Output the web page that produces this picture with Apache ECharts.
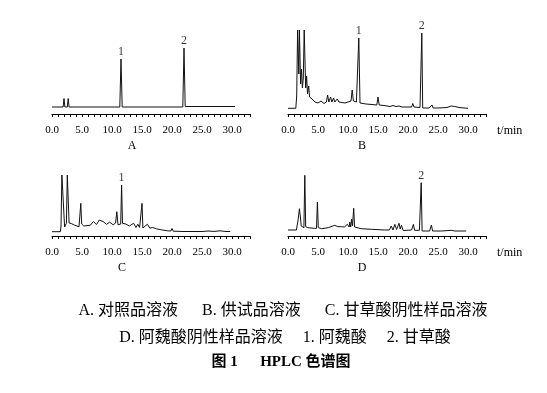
<!DOCTYPE html>
<html><head><meta charset="utf-8">
<script src="https://cdn.jsdelivr.net/npm/echarts@6/dist/echarts.min.js"></script>
<style>html,body{margin:0;padding:0;background:#fff}#c{width:547px;height:393px}</style>
</head><body><div id="c"></div>
<script>
// Tick labels (retention time, min)
const tickValues = [0, 5, 10, 15, 20, 25, 30];
const tickLabels = ['0.0', '5.0', '10.0', '15.0', '20.0', '25.0', '30.0'];

// A: reference solution
const aTime   = [0, 1.85, 2.0, 2.15, 2.55, 2.7, 2.85, 11.3, 11.5, 11.7, 21.8, 22.0, 22.2, 30.5];
const aSignal = [7, 7, 15.5, 7, 7, 15.5, 7, 7, 55, 7, 7, 66, 7.5, 7.5];
const aPeakTimes = [11.5, 22.0];
const aPeakNames = ['1', '2'];

// B: test sample solution
const bTime = [0, 1.3, 1.45, 1.6, 1.7, 1.8, 1.9, 2.0, 2.1, 2.25, 2.4, 2.55, 2.7, 2.8, 2.95, 3.1, 3.25, 3.45, 3.6, 3.8, 4.0, 4.5, 5.0, 5.5, 6.0, 6.4, 6.6, 6.8, 7.1, 7.3, 7.6, 7.8, 8.2, 8.5, 9.0, 9.5, 10.0, 10.5, 10.7, 10.9, 11.4, 11.6, 11.8, 12.0, 12.5, 13.0, 14.0, 14.8, 15.0, 15.2, 16.0, 17.0, 17.5, 18.0, 18.5, 19.0, 20.0, 20.6, 20.8, 21.0, 22.0, 22.15, 22.3, 22.45, 23.5, 24.0, 24.2, 25.0, 26.5, 27.2, 27.8, 28.5, 30.0];
const bSignal = [5.7, 5.7, 18, 84, 84, 40, 84, 84, 30, 45, 26, 36, 84, 84, 26, 38, 20, 28, 17, 19, 15, 12, 11, 13, 10.5, 12, 19, 12, 17, 12, 16, 12, 15, 12, 11.5, 11, 12, 13, 24, 13, 12, 12, 76, 11, 10.5, 10, 9.5, 9, 17, 9, 8.5, 7.5, 8.5, 7.5, 8, 7, 7, 7, 10.5, 7, 6.5, 6.5, 81, 6, 6, 9, 6, 6, 6.5, 8, 7.5, 6.5, 5.7];
const bPeakTimes = [11.8, 22.3];
const bPeakNames = ['1', '2'];

// C: glycyrrhizic-acid negative sample
const cTime = [0, 1.4, 1.5, 1.65, 1.95, 2.1, 2.4, 2.55, 2.7, 2.85, 3.2, 3.7, 4.5, 4.7, 4.8, 4.95, 5.1, 5.3, 5.6, 6.4, 6.9, 7.4, 7.9, 8.2, 8.5, 9.1, 9.6, 10.2, 10.6, 10.8, 11.0, 11.3, 11.45, 11.6, 11.75, 12.3, 12.6, 12.9, 13.1, 13.6, 14.0, 14.3, 14.6, 14.85, 15.0, 15.15, 15.3, 15.9, 16.3, 16.8, 17.4, 18.2, 19.3, 19.8, 20.0, 20.2, 22, 25, 26, 27, 28, 29, 29.7];
const cSignal = [4.3, 4.3, 10, 61, 61, 9, 12.7, 61, 61, 13, 12.5, 11, 9.3, 9.3, 32.7, 12, 14, 10, 9.3, 10.8, 14.5, 11.5, 16, 18, 14.5, 11.7, 13.8, 11.2, 13, 24.3, 11.2, 12, 12, 51, 12.7, 12, 13.8, 10, 9.3, 12.7, 8.5, 11.8, 8.5, 8.5, 32.7, 8, 7.8, 11.8, 7.8, 8.5, 7.2, 6.2, 5.2, 5, 7.5, 4.8, 4.5, 4.5, 5, 4.6, 5.2, 4.5, 4.5];
const cPeakTimes = [11.6];
const cPeakNames = ['1'];

// D: ferulic-acid negative sample
const dTime = [0, 1.4, 1.7, 1.9, 2.05, 2.2, 2.5, 2.65, 2.8, 2.95, 3.3, 4.4, 4.75, 4.9, 5.05, 5.6, 6.7, 7.8, 8.1, 8.3, 8.9, 9.2, 9.4, 9.9, 10.2, 10.3, 10.45, 10.6, 10.75, 10.95, 11.1, 11.4, 12.2, 13.9, 16.1, 16.9, 17.2, 17.5, 17.8, 18.1, 18.5, 18.7, 18.9, 19.2, 20.6, 20.9, 21.1, 21.9, 22.05, 22.2, 22.35, 23.6, 23.9, 24.1, 25.6, 27.2, 27.8, 29.7];
const dSignal = [6, 6, 16.7, 27.3, 20, 10, 8.3, 8.3, 60.7, 9.3, 8.3, 7.7, 7.7, 34, 8.3, 7.3, 8.3, 10.7, 12.7, 9.3, 9.3, 11.3, 9, 11.7, 9, 14, 9, 17, 10, 27.7, 9, 8.3, 7.3, 6.7, 6, 6, 10, 6, 11.7, 6.5, 12.7, 7, 10.7, 5.5, 6, 11.7, 5.7, 5.7, 5.7, 53.3, 5, 5, 11, 5, 5, 5.7, 5, 5];
const dPeakTimes = [22.2];
const dPeakNames = ['2'];

const panelNames = ['A', 'B', 'C', 'D'];
const captionLines = [
  'A. 对照品溶液      B. 供试品溶液      C. 甘草酸阴性样品溶液',
  'D. 阿魏酸阴性样品溶液     1. 阿魏酸     2. 甘草酸',
  '图 1      HPLC 色谱图'
];

const SERIF = '"Liberation Serif", "DejaVu Serif", serif';
const MIXED = '"Liberation Serif", "Noto Sans CJK SC", serif';

function pairs(t, s) { return t.map((x, i) => [x, s[i]]); }
function peakPoints(t, s, pt, pn) {
  return pt.map((x, i) => ({ value: [x, s[t.indexOf(x)]], name: pn[i] }));
}
function xAx(gi, withName) {
  return {
    type: 'value', gridIndex: gi, min: 0, max: 33, interval: 1,
    axisLine: { show: true, onZero: false, lineStyle: { color: '#000', width: 1 } },
    axisTick: { show: true, length: 3, lineStyle: { color: '#000', width: 1 } },
    axisLabel: {
      margin: 11, color: '#000', fontFamily: SERIF, fontSize: 11,
      formatter: v => { const k = tickValues.indexOf(Math.round(v * 10) / 10); return k >= 0 ? tickLabels[k] : ''; }
    },
    splitLine: { show: false },
    name: withName ? 't/min' : '', nameLocation: 'end', nameGap: 11,
    nameTextStyle: { color: '#000', fontFamily: SERIF, fontSize: 12, verticalAlign: 'top', padding: [11, 0, 0, 0] }
  };
}
function yAx(gi, max) {
  return { type: 'value', gridIndex: gi, min: 0, max: max, show: false };
}
function lineSeries(gi, t, s) {
  return {
    type: 'line', xAxisIndex: gi, yAxisIndex: gi, data: pairs(t, s),
    showSymbol: false, symbol: 'none', lineStyle: { color: '#111', width: 1 }, silent: true, z: 3
  };
}
function labelSeries(gi, t, s, pt, pn) {
  return {
    type: 'scatter', xAxisIndex: gi, yAxisIndex: gi, data: peakPoints(t, s, pt, pn),
    symbolSize: 0, clip: false, silent: true,
    label: { show: true, position: 'top', distance: 1, formatter: p => p.name, color: '#000', fontFamily: SERIF, fontSize: 12 }
  };
}

const titlePos = [[132, 140], [362, 140], [122, 262], [362, 262]];
const titles = panelNames.map((n, i) => ({
  text: n, left: titlePos[i][0], top: titlePos[i][1], textAlign: 'center', padding: 0,
  textStyle: { fontFamily: SERIF, fontSize: 12, fontWeight: 'normal', color: '#000' }
}));
titles.push({ text: captionLines[0], left: 283, top: 303, textAlign: 'center', padding: 0,
  textStyle: { fontFamily: MIXED, fontSize: 16, fontWeight: 'normal', color: '#000' } });
titles.push({ text: captionLines[1], left: 285, top: 330, textAlign: 'center', padding: 0,
  textStyle: { fontFamily: MIXED, fontSize: 16, fontWeight: 'normal', color: '#000' } });
titles.push({ text: captionLines[2], left: 281, top: 355, textAlign: 'center', padding: 0,
  textStyle: { fontFamily: MIXED, fontSize: 15, fontWeight: 'bold', color: '#000' } });

const chart = echarts.init(document.getElementById('c'));
chart.setOption({
  backgroundColor: '#fff',
  animation: false,
  title: titles,
  grid: [
    { left: 52, top: 30, width: 198, height: 84 },
    { left: 288, top: 30, width: 198, height: 84 },
    { left: 52, top: 173, width: 198, height: 63 },
    { left: 288, top: 173, width: 198, height: 63 }
  ],
  xAxis: [xAx(0, false), xAx(1, true), xAx(2, false), xAx(3, true)],
  yAxis: [yAx(0, 84), yAx(1, 84), yAx(2, 63), yAx(3, 63)],
  series: [
    lineSeries(0, aTime, aSignal), labelSeries(0, aTime, aSignal, aPeakTimes, aPeakNames),
    lineSeries(1, bTime, bSignal), labelSeries(1, bTime, bSignal, bPeakTimes, bPeakNames),
    lineSeries(2, cTime, cSignal), labelSeries(2, cTime, cSignal, cPeakTimes, cPeakNames),
    lineSeries(3, dTime, dSignal), labelSeries(3, dTime, dSignal, dPeakTimes, dPeakNames)
  ]
});
</script>
</body></html>
